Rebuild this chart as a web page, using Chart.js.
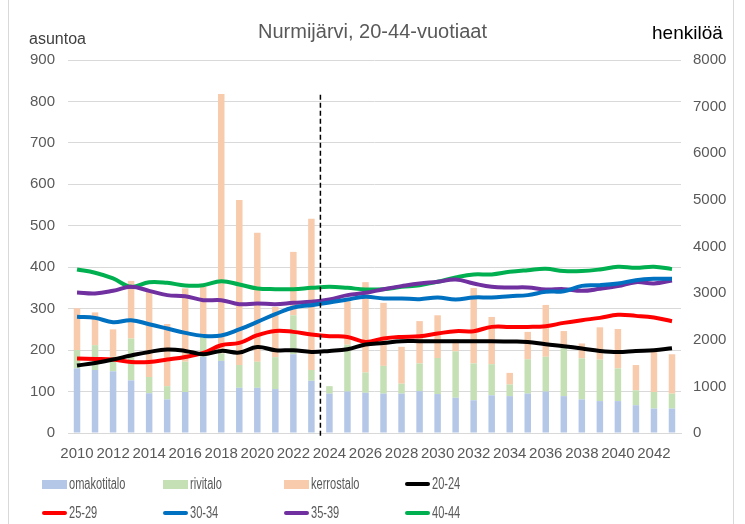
<!DOCTYPE html>
<html>
<head>
<meta charset="utf-8">
<script src="https://cdn.jsdelivr.net/npm/chart.js@4.4.0/dist/chart.umd.min.js"></script>
<style>
  body { margin: 0; background: #fff; }
  #wrap { position: relative; width: 745px; height: 524px; overflow: hidden; font-family: "Liberation Sans", Arial, sans-serif; }
  #frame { position: absolute; left: 8px; top: -2px; width: 724px; height: 540px; border: 1px solid #d9d9d9; }
  #c { position: absolute; left: 0; top: 0; }
  #title { position: absolute; left: 0; top: 20px; width: 745px; text-align: center; font-size: 20px; color: #595959; }
  #unitL { position: absolute; left: 29px; top: 30px; font-size: 16px; color: #404040; }
  #unitR { position: absolute; left: 652px; top: 22px; font-size: 19px; color: #000; }
  .leg { position: absolute; font-size: 16px; color: #595959; display: flex; align-items: center; white-space: nowrap; }
  .leg i { display: inline-block; width: 25px; margin-right: 2px; }
  .leg span { display: inline-block; transform: scaleX(0.69); transform-origin: left center; }
</style>
</head>
<body>
<div id="wrap">
  <div id="frame"></div>
  <canvas id="c" width="745" height="524"></canvas>
  <div id="title">Nurmijärvi, 20-44-vuotiaat</div>
  <div id="unitL">asuntoa</div>
  <div id="unitR">henkilöä</div>
  <div id="legend"></div>
</div>
<script>
const vuodet = ['2010','2011','2012','2013','2014','2015','2016','2017','2018','2019','2020','2021',
  '2022','2023','2024','2025','2026','2027','2028','2029','2030','2031','2032','2033','2034','2035',
  '2036','2037','2038','2039','2040','2041','2042','2043'];

// asunnot (vasen akseli)
const omakotitalo = [156,152,149,127,96,81,99,184,174,109,109,106,190,126,95,100,97,95,95,101,94,85,79,91,89,95,100,89,81,77,77,67,59,59];
const rivitalo = [44,60,35,101,39,32,73,48,18,55,63,77,94,26,18,113,49,67,24,67,87,112,89,75,28,83,84,118,99,100,79,36,40,36];
const kerrostalo = [101,79,66,139,210,150,177,121,626,398,311,121,153,365,0,105,218,152,89,102,103,29,182,114,28,66,125,39,36,78,95,61,97,95];

// henkilöt (oikea akseli)
const ika2024 = [1447,1503,1576,1662,1739,1790,1761,1690,1761,1726,1846,1776,1776,1739,1761,1797,1898,1932,1969,1969,1969,1969,1969,1969,1962,1954,1904,1861,1812,1761,1739,1761,1776,1818];
const ika2529 = [1597,1589,1576,1525,1525,1576,1632,1718,1883,1932,2098,2190,2169,2113,2076,2061,1954,2027,2061,2076,2134,2184,2184,2276,2276,2276,2291,2362,2420,2469,2534,2512,2477,2398];
const ika3034 = [2491,2469,2377,2420,2334,2241,2147,2083,2091,2220,2383,2549,2692,2742,2799,2864,2920,2885,2885,2871,2907,2864,2907,2907,2935,2957,3028,3042,3156,3171,3207,3278,3307,3307];
const ika3539 = [3014,2993,3049,3135,3049,2957,2935,2849,2849,2763,2778,2763,2791,2813,2864,2957,3006,3085,3150,3207,3243,3293,3207,3135,3121,3121,3078,3085,3049,3092,3150,3235,3207,3271];
const ika4044 = [3508,3436,3315,3135,3235,3221,3164,3171,3257,3186,3100,3085,3085,3113,3135,3113,3078,3085,3135,3171,3243,3336,3401,3401,3457,3493,3522,3472,3472,3508,3565,3543,3565,3515];

const ennusteAlkaa = '2024';
const viivanYla = 816;

const palkki = (label, data, color) => ({
  type: 'bar', label, data, backgroundColor: color, yAxisID: 'y',
  stack: 'asunnot', order: 2, barPercentage: 0.36, categoryPercentage: 1,
});
const viiva = (label, data, color) => ({
  type: 'line', label, data, borderColor: color, backgroundColor: color, yAxisID: 'y1',
  borderWidth: 4, pointRadius: 0, tension: 0.4, order: 1,
});

const datasets = [
  palkki('omakotitalo', omakotitalo, '#b4c7e7'),
  palkki('rivitalo', rivitalo, '#c5e0b4'),
  palkki('kerrostalo', kerrostalo, '#f8cbad'),
  viiva('20-24', ika2024, '#000000'),
  viiva('25-29', ika2529, '#ff0000'),
  viiva('30-34', ika3034, '#0070c0'),
  viiva('35-39', ika3539, '#7030a0'),
  viiva('40-44', ika4044, '#00b050'),
];

// pystysuora katkoviiva ennusteen alkuun
const katkoviiva = {
  id: 'katkoviiva',
  afterDatasetsDraw(chart) {
    const x = chart.scales.x, y = chart.scales.y;
    const i = vuodet.indexOf(ennusteAlkaa);
    const px = (x.getPixelForValue(i - 1) + x.getPixelForValue(i)) / 2;
    const ctx = chart.ctx;
    ctx.save();
    ctx.strokeStyle = '#000';
    ctx.lineWidth = 1.5;
    ctx.setLineDash([5, 3]);
    ctx.beginPath();
    ctx.moveTo(px, y.getPixelForValue(viivanYla));
    ctx.lineTo(px, chart.chartArea.bottom + 4);
    ctx.stroke();
    ctx.restore();
  }
};

const tickFont = { family: '"Liberation Sans", Arial, sans-serif', size: 15 };

new Chart(document.getElementById('c'), {
  data: { labels: vuodet, datasets },
  options: {
    responsive: false,
    animation: false,
    devicePixelRatio: 1,
    layout: { padding: { top: 60, left: 0, right: 0, bottom: 0 } },
    plugins: { legend: { display: false }, tooltip: { enabled: false }, title: { display: false } },
    scales: {
      x: {
        stacked: true,
        grid: { display: false, drawTicks: false },
        border: { display: true, color: '#d9d9d9', width: 1 },
        ticks: {
          font: tickFont, color: '#595959', padding: 12, autoSkip: false, maxRotation: 0,
          callback: (v, i) => (i % 2 === 0 ? vuodet[i] : ''),
        },
        afterFit: (s) => { s.height = 91; },
      },
      y: {
        stacked: true, position: 'left', min: 0, max: 900,
        grid: { color: '#d9d9d9', lineWidth: 1, drawTicks: false },
        border: { display: false },
        ticks: { stepSize: 100, font: tickFont, color: '#595959', padding: 13 },
        afterFit: (s) => { s.width = 68; },
      },
      y1: {
        stacked: false, position: 'right', min: 0, max: 8000,
        grid: { display: false, drawTicks: false },
        border: { display: false },
        ticks: { stepSize: 1000, font: tickFont, color: '#595959', padding: 12, callback: (v) => String(v) },
        afterFit: (s) => { s.width = 64; },
      },
    },
  },
  plugins: [katkoviiva],
});

// selite kahteen riviin, neljä saraketta
const legend = document.getElementById('legend');
datasets.forEach((d, i) => {
  const el = document.createElement('div');
  el.className = 'leg';
  el.style.left = (42 + (i % 4) * 121) + 'px';
  el.style.top = (i < 4 ? 475 : 504) + 'px';
  const sw = document.createElement('i');
  sw.style.background = d.type === 'bar' ? d.backgroundColor : d.borderColor;
  sw.style.height = d.type === 'bar' ? '9px' : '4px';
  if (d.type === 'line') sw.style.borderRadius = '2px';
  const txt = document.createElement('span');
  txt.textContent = d.label;
  el.appendChild(sw);
  el.appendChild(txt);
  legend.appendChild(el);
});
</script>
</body>
</html>
